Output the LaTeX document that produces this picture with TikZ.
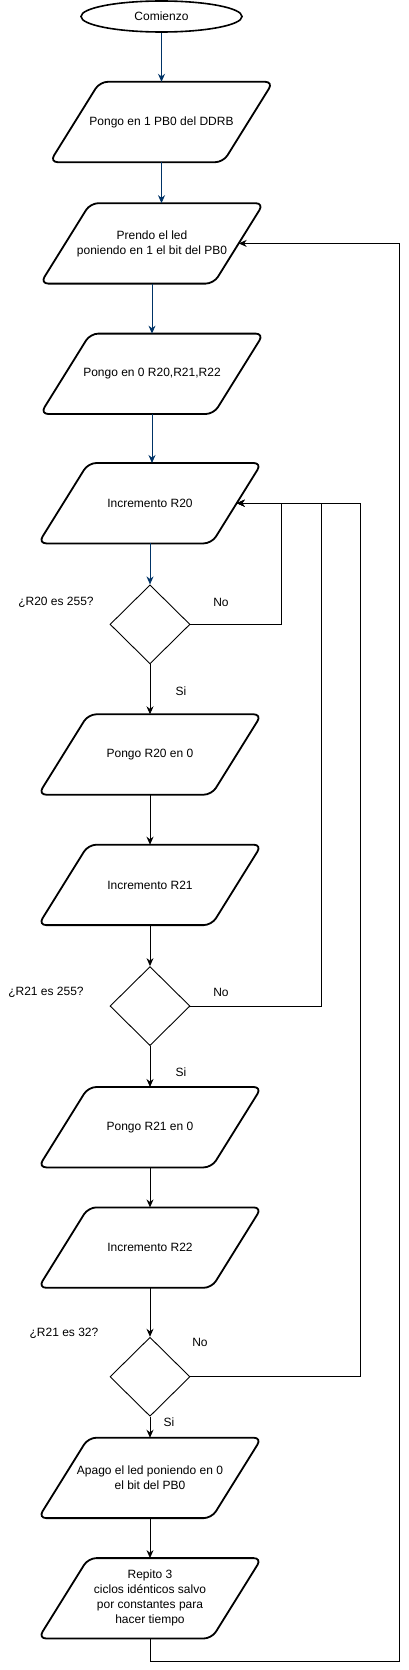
\documentclass[tikz,border=0pt]{standalone}
\usepackage{fontspec}
\setmainfont{Liberation Sans}
\usepackage{xcolor}
\usetikzlibrary{arrows.meta,positioning,shapes.geometric}
\definecolor{flowblue}{HTML}{003366}

\begin{document}
\begin{tikzpicture}[
x=1pt, y=-1pt, font=\fontsize{12}{15}\selectfont,
terminal/.style={draw, line width=1.6pt, ellipse, minimum width=161pt, minimum height=31pt, inner sep=0pt},
inout/.style={align=center, minimum width=173pt, minimum height=80pt, inner sep=0pt,
  append after command={\pgfextra{\draw[line width=1.8pt, rounded corners=8pt]
    ([xshift=25pt]\tikzlastnode.north west) -- ([xshift=25pt]\tikzlastnode.north east) --
    ([xshift=-25pt]\tikzlastnode.south east) -- ([xshift=-25pt]\tikzlastnode.south west) -- cycle;}}},
check/.style={draw, line width=0.9pt, diamond, minimum width=80pt, minimum height=79pt, inner sep=0pt},
arrow/.style={-{Stealth[length=8pt,width=7pt]}, line width=0.9pt},
bluearrow/.style={arrow, draw=flowblue}
]
\useasboundingbox (0,0) rectangle (409,1670);
\node[terminal] (begin) at (161.5,16.5) {Comienzo};
\node[inout, below=49pt of begin] (ddrb) {Pongo en 1 PB0 del DDRB};
\node[inout, below=41pt of ddrb, xshift=-9.5pt] (ledon) {Prendo el led\\poniendo en 1 el bit del PB0};
\node[inout, below=50pt of ledon] (clear) {Pongo en 0 R20,R21,R22};
\node[inout, below=49pt of clear, xshift=-2pt] (incA) {Incremento R20};
\node[check, below=41pt of incA] (chkA) {};
\node[inout, below=50pt of chkA] (zeroA) {Pongo R20 en 0};
\node[inout, below=50pt of zeroA] (incB) {Incremento R21};
\node[check, below=41pt of incB] (chkB) {};
\node[inout, below=41pt of chkB] (zeroB) {Pongo R21 en 0};
\node[inout, below=40pt of zeroB] (incC) {Incremento R22};
\node[check, below=49pt of incC] (chkC) {};
\node[inout, below=21pt of chkC] (ledoff) {Apago el led poniendo en 0\\el bit del PB0};
\node[inout, below=40pt of ledoff] (repeat) {Repito 3\\ciclos idénticos salvo\\por constantes para\\hacer tiempo};

\node (qA) at (56,602) {¿R20 es 255?};
\node (noA) at (221,602) {No};
\node (siA) at (181,691) {Si};
\node (qB) at (46,992) {¿R21 es 255?};
\node (noB) at (221,992) {No};
\node (siB) at (181,1072) {Si};
\node (qC) at (64,1333) {¿R21 es 32?};
\node (noC) at (200,1342) {No};
\node (siC) at (169,1422) {Si};
\coordinate (back) at (399,1661);

\draw[bluearrow] (begin) -- (ddrb);
\draw[bluearrow] (ddrb) -- (ddrb |- ledon.north);
\draw[bluearrow] (ledon) -- (clear);
\draw[bluearrow] (clear) -- (clear |- incA.north);
\draw[bluearrow] (incA) -- (chkA);
\draw[arrow] (chkA) -- (zeroA);
\draw[arrow] (zeroA) -- (incB);
\draw[arrow] (incB) -- (chkB);
\draw[arrow] (chkB) -- (zeroB);
\draw[arrow] (zeroB) -- (incC);
\draw[arrow] (incC) -- (chkC);
\draw[arrow] (chkC) -- (ledoff);
\draw[arrow] (ledoff) -- (repeat);
\draw[arrow] (chkA.east) -- ++(91,0) |- (incA.east);
\draw[arrow] (chkB.east) -- ++(131,0) |- (incA.east);
\draw[arrow] (chkC.east) -- ++(170,0) |- (incA.east);
\draw[arrow] (repeat.south) |- (back) |- (ledon.east);
\end{tikzpicture}
\end{document}
